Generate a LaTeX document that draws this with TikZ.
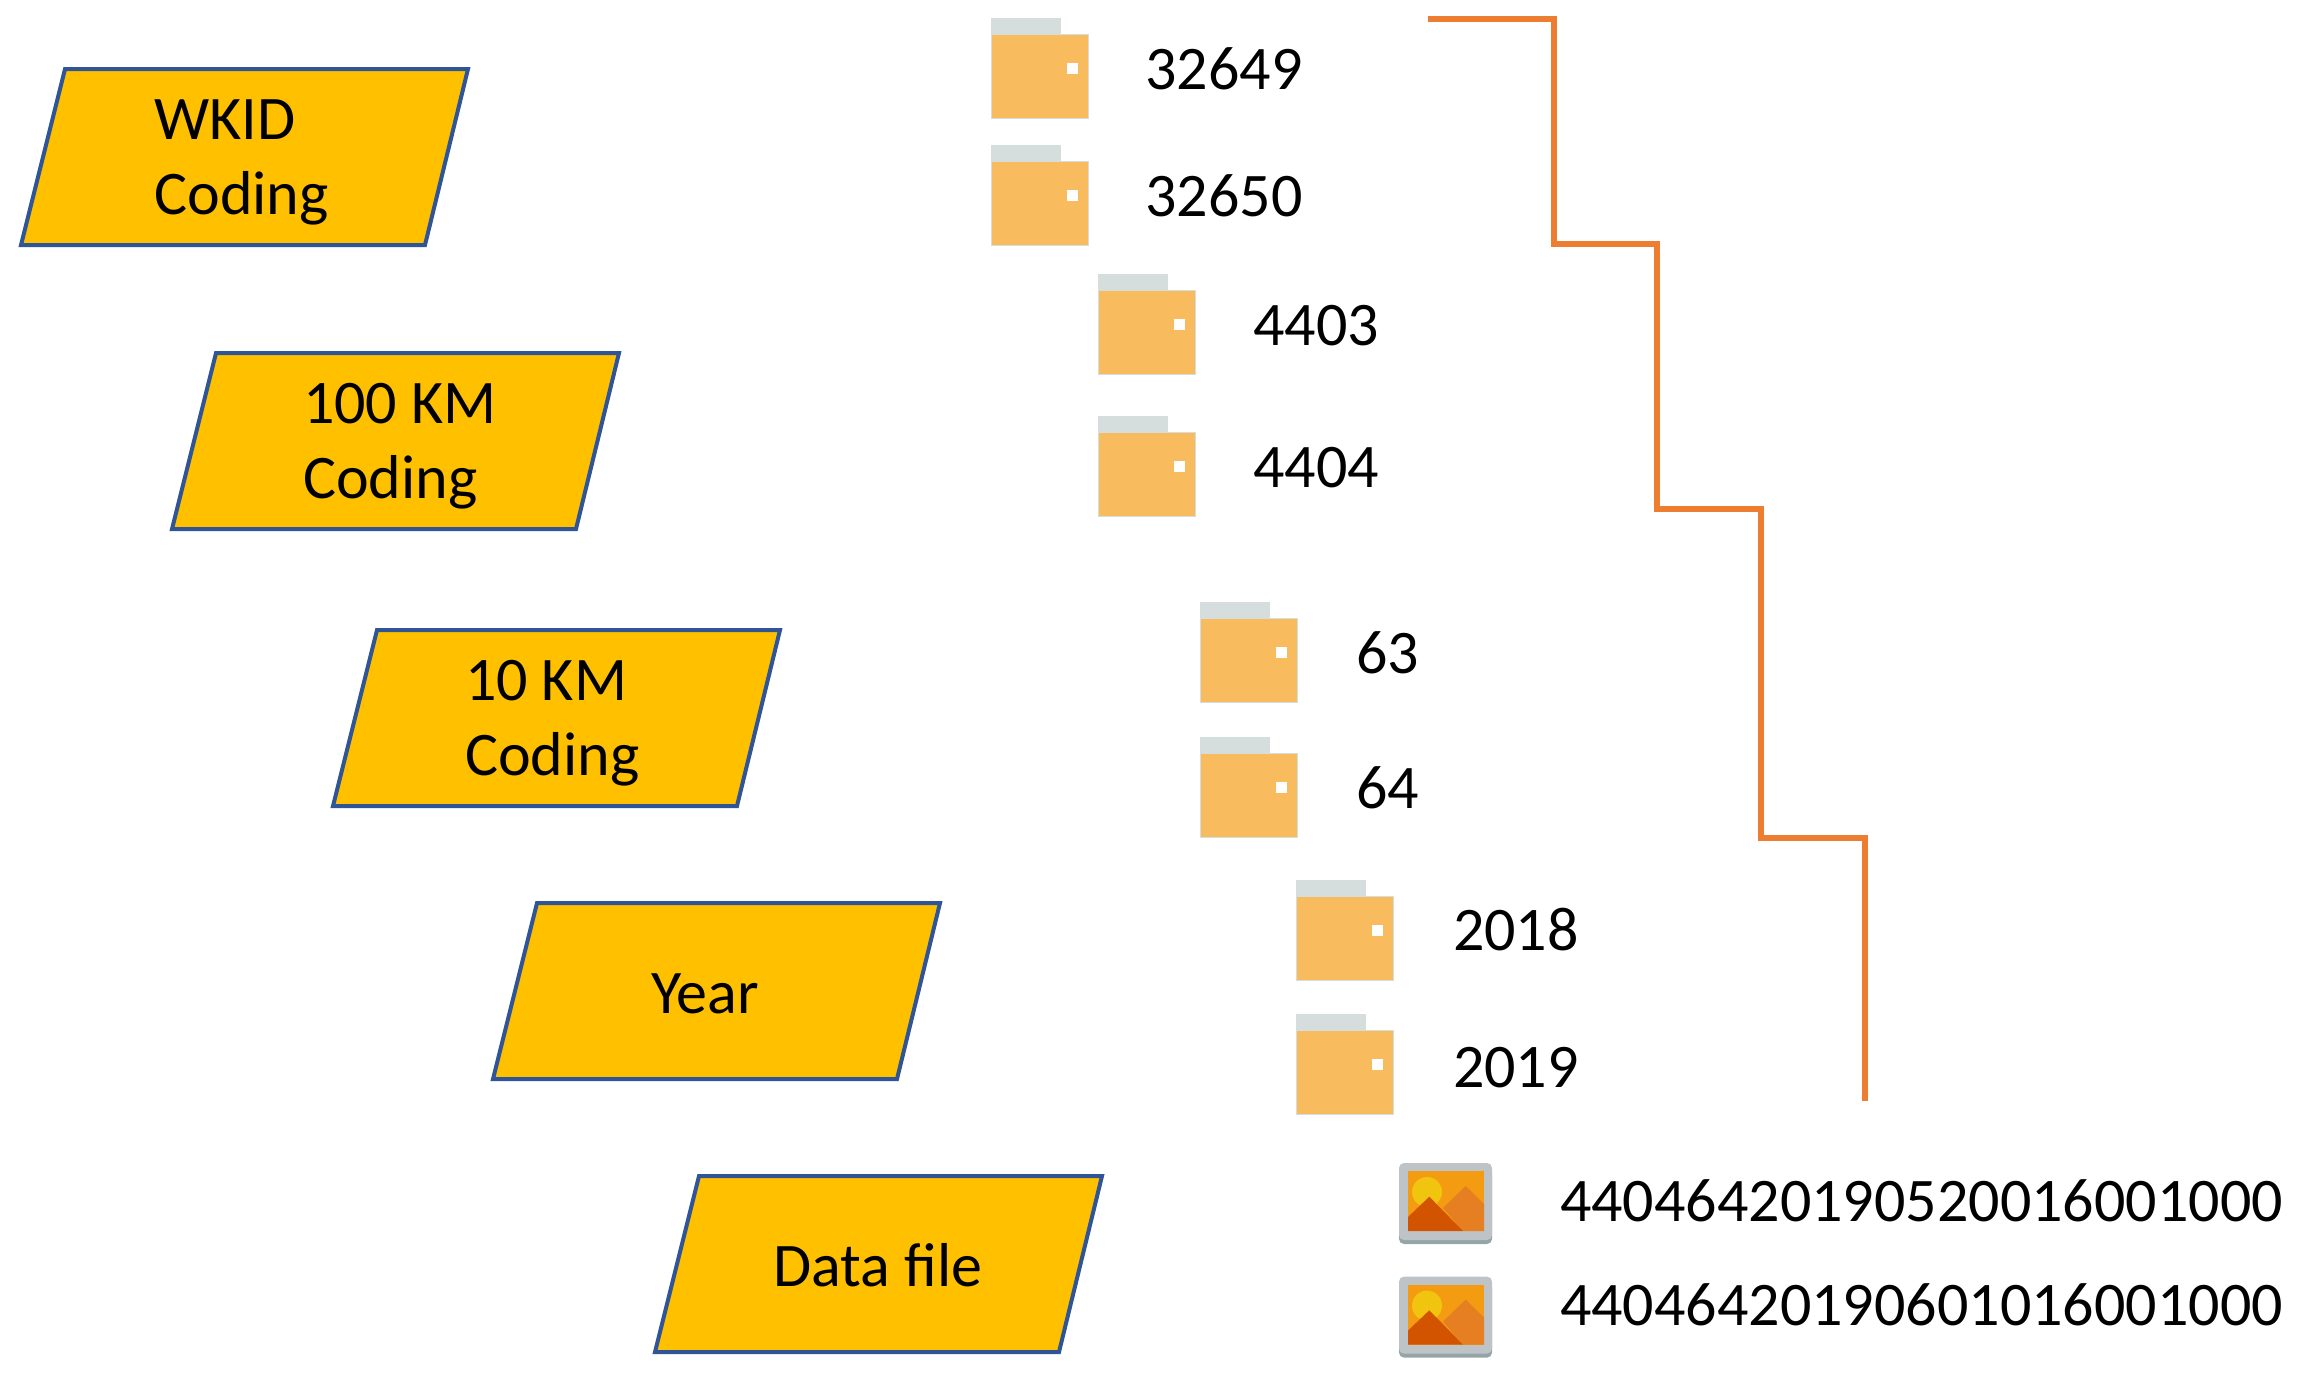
\documentclass[tikz,border=0pt]{standalone}
\usepackage{fontspec}
\setmainfont{Carlito}
\definecolor{boxfill}{HTML}{FFC000}
\definecolor{boxline}{HTML}{2F5597}
\definecolor{stair}{HTML}{ED7D31}
\definecolor{foldbody}{HTML}{F8BC5E}
\definecolor{foldtab}{HTML}{D5DEDC}
\definecolor{imgframe}{HTML}{BDC3C7}
\definecolor{imgshade}{HTML}{95A5A6}
\definecolor{imgsky}{HTML}{F39C12}
\definecolor{imgsun}{HTML}{F1C40F}
\definecolor{imgdark}{HTML}{D35400}
\definecolor{imglight}{HTML}{E67E22}
\newcommand{\sz}{\fontsize{62}{62}\selectfont}
\tikzset{
  x=1pt,y=-1pt,
  lbl/.style={anchor=base west,inner sep=0pt,outer sep=0pt,text=black,font=\sz},
  clbl/.style={anchor=base,inner sep=0pt,outer sep=0pt,text=black,font=\sz},
  para/.style={fill=boxfill,draw=boxline,line width=4pt,line join=miter},
  stairline/.style={draw=stair,line width=5.8pt,line join=miter},
}
\newcommand{\paragram}{\path[para] (65,69) -- (468,69) -- (425,245) -- (21,245) -- cycle;}
% #1 x, #2 y of the folder
\newcommand{\folder}[2]{%
  \begin{scope}[shift={(#1,#2)}]
    \fill[foldtab] (0,0) rectangle (70,18);
    \fill[foldtab] (0,16) rectangle (98,101);
    \fill[foldbody] (1,17) rectangle (97,100);
    \fill[white] (76,45) rectangle (87,56);
  \end{scope}}
% #1 x, #2 y of the icon
\newcommand{\imgicon}[2]{%
  \begin{scope}[shift={(#1,#2)}]
    \fill[imgshade,rounded corners=5pt] (0,6) rectangle (93,81);
    \fill[imgframe,rounded corners=5pt] (0,0) rectangle (93,77);
    \fill[imgsky] (9,8) rectangle (85,68);
    \begin{scope}
      \clip (9,8) rectangle (85,68);
      \fill[imgsun] (28,29) circle (15);
    \end{scope}
    \fill[imglight] (66.7,23) -- (85,41) -- (85,68) -- (64,68) -- (44,45) -- cycle;
    \fill[imgdark] (30.3,33.7) -- (64,68) -- (9,68) -- (9,54) -- cycle;
  \end{scope}}
\begin{document}
\begin{tikzpicture}
\useasboundingbox (0,0) rectangle (2299,1373);
% parallelograms
\paragram
\node[lbl] (wkidA) at (154.5,139.5) {WKID};
\node[lbl] (wkidB) at (154.5,214.5) {Coding};
\begin{scope}[shift={(151,284)}]
\paragram
\node[lbl] (hkmA) at (152,139.5) {100 KM};
\node[lbl] (hkmB) at (152,214.5) {Coding};
\end{scope}
\begin{scope}[shift={(312,561)}]
\paragram
\node[lbl] (tkmA) at (153,139.5) {10 KM};
\node[lbl] (tkmB) at (153,214.5) {Coding};
\end{scope}
\begin{scope}[shift={(472,834)}]
\paragram
\node[clbl] (yr) at (233,179) {Year};
\end{scope}
\begin{scope}[shift={(634,1107)}]
\paragram
\node[clbl] (df) at (244,179) {Data file};
\end{scope}
% folders
\folder{991}{18}
\node[lbl] (fa) at (1145.5,89.5) {32649};
\folder{991}{145}
\node[lbl] (fb) at (1145.5,216.5) {32650};
\folder{1098.4}{274}
\node[lbl] (fc) at (1253.5,345.5) {4403};
\folder{1098.4}{416}
\node[lbl] (fd) at (1253.5,487.5) {4404};
\folder{1199.6}{602}
\node[lbl] (fe) at (1356,673.5) {63};
\folder{1199.6}{737}
\node[lbl] (ff) at (1356,808.5) {64};
\folder{1296.4}{880}
\node[lbl] (fg) at (1453,950) {2018};
\folder{1296.4}{1014}
\node[lbl] (fh) at (1453,1087) {2019};
% images
\imgicon{1399}{1163}
\node[lbl] (ia) at (1560,1221.5) {44046420190520016001000};
\imgicon{1399}{1276.6}
\node[lbl] (ib) at (1560,1325.5) {44046420190601016001000};
% staircase
\coordinate (s0) at (1428,19);
\coordinate (s1) at (1865,1101);
\draw[stairline] (s0) -- (1554,19) -- (1554,244) -- (1657,244) -- (1657,509) -- (1761,509) -- (1761,838) -- (1865,838) -- (s1);
\end{tikzpicture}
\end{document}
